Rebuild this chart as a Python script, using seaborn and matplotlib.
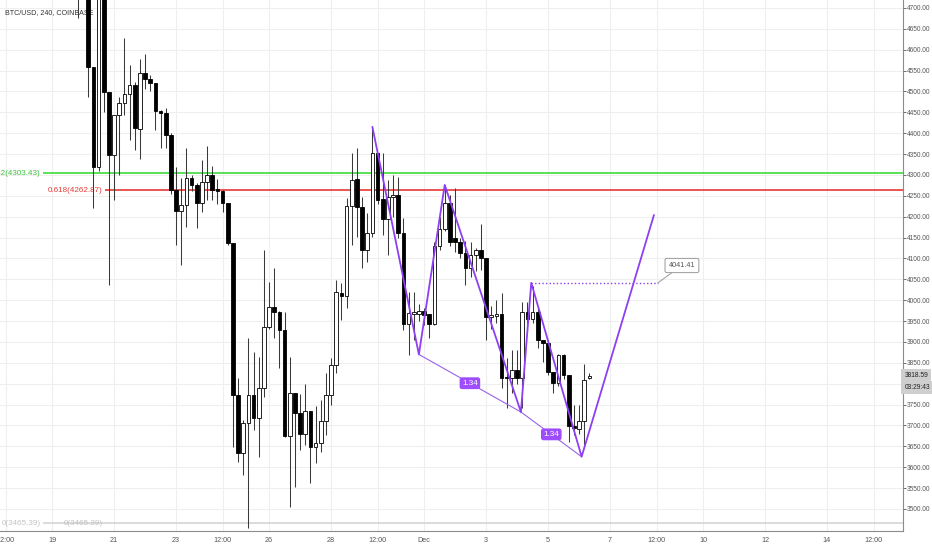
import numpy as np
import pandas as pd
import matplotlib
matplotlib.use("Agg")
import matplotlib.pyplot as plt
import matplotlib.dates as mdates
import matplotlib.transforms as mtransforms
import seaborn as sns

# 4h candles BTC/USD (Coinbase)
opens = [4790, 4740, 4770, 4559, 4319, 4745, 4499, 4348, 4444, 4472,
         4494, 4516, 4410, 4544, 4530, 4520, 4452, 4449, 4396, 4264,
         4214, 4228, 4293, 4276, 4233, 4283, 4300, 4267, 4262, 4233,
         4137, 3773, 3634, 3706, 3773, 3718, 3790, 3936, 3984, 3972,
         3929, 3675, 3778, 3730, 3680, 3735, 3649, 3658, 3711, 3773,
         3845, 4018, 4010, 4226, 4290, 4223, 4120, 4161, 4353, 4243,
         4195, 4247, 4252, 4161, 3943, 3968, 3967, 3974, 3967, 3943,
         4130, 4171, 4233, 4148, 4140, 4113, 4077, 4108, 4120, 4101,
         3960, 3963, 3967, 3816, 3814, 3833, 3814, 3972, 3955, 3972,
         3905, 3898, 3828, 3802, 3869, 3821, 3699, 3692, 3711, 3814]
highs = [4820, 4790, 4790, 4559, 4780, 4760, 4499, 4444, 4487, 4628,
         4564, 4523, 4578, 4590, 4540, 4520, 4455, 4460, 4400, 4319,
         4293, 4365, 4300, 4280, 4336, 4370, 4322, 4290, 4264, 4233,
         4137, 3813, 3713, 3910, 3876, 3864, 4120, 4044, 4077, 3975,
         3972, 3864, 3778, 3776, 3800, 3735, 3747, 3761, 3826, 3862,
         4049, 4041, 4245, 4353, 4365, 4247, 4209, 4415, 4353, 4353,
         4288, 4300, 4295, 4197, 4020, 4020, 3990, 3980, 3967, 4140,
         4200, 4276, 4252, 4269, 4150, 4142, 4140, 4125, 4183, 4101,
         3985, 4000, 4018, 3862, 3881, 3880, 3996, 3996, 4034, 3980,
         3905, 3898, 3828, 3872, 3872, 3821, 3749, 3749, 3847, 3825]
lows = [4676, 4722, 4487, 4221, 4310, 4451, 4037, 4240, 4300, 4444,
        4384, 4360, 4338, 4506, 4500, 4408, 4365, 4365, 4255, 4132,
        4085, 4176, 4262, 4173, 4211, 4240, 4240, 4230, 4211, 4132,
        3649, 3613, 3582, 3455, 3689, 3625, 3768, 3930, 3910, 3838,
        3673, 3505, 3553, 3641, 3653, 3562, 3610, 3637, 3677, 3749,
        3826, 3953, 3982, 4132, 4152, 4077, 4092, 4152, 4230, 4156,
        4108, 4200, 4150, 3929, 3869, 3905, 3950, 3940, 3910, 3940,
        4120, 4165, 4130, 4116, 4100, 4037, 4055, 4070, 4073, 3905,
        3930, 3945, 3790, 3742, 3778, 3800, 3742, 3940, 3945, 3886,
        3852, 3820, 3778, 3795, 3810, 3661, 3677, 3680, 3653, 3812]
closes = [4740, 4770, 4559, 4319, 4750, 4499, 4348, 4444, 4472, 4494,
          4516, 4413, 4544, 4530, 4520, 4453, 4449, 4396, 4264, 4214,
          4228, 4293, 4276, 4233, 4283, 4300, 4264, 4262, 4233, 4137,
          3773, 3634, 3706, 3773, 3718, 3790, 3936, 3984, 3972, 3929,
          3675, 3778, 3730, 3680, 3735, 3649, 3658, 3711, 3773, 3845,
          4020, 4010, 4226, 4288, 4223, 4120, 4161, 4353, 4240, 4195,
          4247, 4252, 4161, 3943, 3970, 3972, 3974, 3965, 3943, 4130,
          4171, 4233, 4140, 4140, 4113, 4077, 4108, 4120, 4101, 3960,
          3965, 3967, 3814, 3814, 3833, 3814, 3972, 3955, 3972, 3905,
          3898, 3828, 3802, 3869, 3821, 3699, 3694, 3711, 3809, 3818.59]
times = pd.date_range("2018-11-19 20:00", periods=len(opens), freq="4h")

# fibonacci levels
fib_green = ("0.382", 4303.43)
fib_red = ("0.618", 4262.87)
fib_zero = ("0", 3465.39)

# harmonic pattern drawing
pattern_times = pd.to_datetime(["2018-11-29 08:00", "2018-11-30 20:00", "2018-12-01 16:00",
                                "2018-12-04 03:00", "2018-12-04 11:00", "2018-12-06 02:00",
                                "2018-12-08 10:00"])
pattern_prices = [4415, 3870, 4276, 3732, 4041.41, 3625, 4204]
ratio_labels = ["1.34", "1.34"]
target_price = 4041.41
last_price = 3818.59
countdown = "03:29:43"

tick_dates = pd.to_datetime(["2018-11-17 12:00", "2018-11-19 00:00", "2018-11-21 00:00",
                             "2018-11-23 00:00", "2018-11-24 12:00", "2018-11-26 00:00",
                             "2018-11-28 00:00", "2018-11-29 12:00", "2018-12-01 00:00",
                             "2018-12-03 00:00", "2018-12-05 00:00", "2018-12-07 00:00",
                             "2018-12-08 12:00", "2018-12-10 00:00", "2018-12-12 00:00",
                             "2018-12-14 00:00", "2018-12-15 12:00"])
tick_labels = ["12:00", "19", "21", "23", "12:00", "26", "28", "12:00", "Dec",
               "3", "5", "7", "12:00", "10", "12", "14", "12:00"]

sns.set_theme(style="white")
plt.rcParams['font.family'] = ['Liberation Sans', 'DejaVu Sans']

fig = plt.figure(figsize=(9.32, 5.5), dpi=100)
ax = fig.add_axes([0, 19 / 550, 903 / 932, 1 - 19 / 550])

x = mdates.date2num(times)
xmin = mdates.date2num(pd.Timestamp("2018-11-17 07:40"))
xmax = mdates.date2num(pd.Timestamp("2018-12-16 10:50"))
ax.set_xlim(xmin, xmax)
ax.set_ylim(3447, 4719)

# grid
ax.set_xticks(mdates.date2num(tick_dates))
ax.set_xticklabels(tick_labels)
ax.set_yticks(np.arange(3500, 4701, 50))
ax.yaxis.set_major_formatter(matplotlib.ticker.FormatStrFormatter("%.2f"))
ax.yaxis.tick_right()
ax.grid(True, color="#efefef", lw=0.8, zorder=0)
ax.tick_params(axis="x", labelsize=5.2, colors="#555555", length=2.5, width=0.6,
               direction="out", pad=2)
ax.tick_params(axis="y", which="both", left=False, right=True, labelsize=4.7,
               colors="#555555", length=2, width=0.6, direction="out", pad=1)
for s in ["top", "left"]:
    ax.spines[s].set_visible(False)
for s in ["right", "bottom"]:
    ax.spines[s].set_color("#8c8c8c")
    ax.spines[s].set_linewidth(0.8)

# title
ax.text(0.006, 1 - 13 / 531, "BTC/USD, 240, COINBASE", transform=ax.transAxes,
        fontsize=5.1, color="#333333", va="center", ha="left", zorder=1)

# fib lines
g_start = mdates.date2num(pd.Timestamp("2018-11-18 17:00"))
r_start = mdates.date2num(pd.Timestamp("2018-11-20 17:00"))
ax.hlines(fib_zero[1], g_start, xmax, color="#d4d4d4", lw=1.2, zorder=1)
ax.hlines(fib_green[1], g_start, xmax, color="#3ddc3d", lw=1.2, zorder=2)
ax.hlines(fib_red[1], r_start, xmax, color="#e53935", lw=1.2, zorder=2)
lab_off = 0.07
ax.text(g_start - lab_off, fib_green[1], f"{fib_green[0]}({fib_green[1]:.2f})", color="#3cc43c",
        fontsize=5.8, ha="right", va="center", clip_on=True)
ax.text(r_start - lab_off, fib_red[1], f"{fib_red[0]}({fib_red[1]:.2f})", color="#e53935",
        fontsize=5.8, ha="right", va="center", clip_on=True)
for st in [g_start, r_start]:
    ax.text(st - lab_off, fib_zero[1], f"{fib_zero[0]}({fib_zero[1]:.2f})", color="#c2c2c2",
            fontsize=5.8, ha="right", va="center", clip_on=True)

# candles
o = np.array(opens, dtype=float)
c = np.array(closes, dtype=float)
up = c >= o
ax.vlines(x, lows, highs, color="#3a3a3a", lw=0.75, zorder=3)
body_bottom = np.minimum(o, c)
body_h = np.maximum(np.abs(c - o), 3)
ax.bar(x[up], body_h[up], bottom=body_bottom[up], width=0.12, color="white",
       edgecolor="black", linewidth=0.6, zorder=4)
ax.bar(x[~up], body_h[~up], bottom=body_bottom[~up], width=0.12, color="black",
       edgecolor="black", linewidth=0.6, zorder=4)

# pattern
purple = "#8e3ff2"
pt = mdates.date2num(pattern_times)
zig = pd.DataFrame({"t": pt, "price": pattern_prices})
sns.lineplot(data=zig, x="t", y="price", sort=False, estimator=None, color=purple,
             lw=1.3, ax=ax, zorder=6)
for a, b, lab in [(1, 3, ratio_labels[0]), (3, 5, ratio_labels[1])]:
    ax.plot([pt[a], pt[b]], [pattern_prices[a], pattern_prices[b]], color="#9a62ea",
            lw=0.8, zorder=5)
    ax.text((pt[a] + pt[b]) / 2, (pattern_prices[a] + pattern_prices[b]) / 2, lab,
            color="white", fontsize=5.8, ha="center", va="center", zorder=7,
            bbox=dict(boxstyle="round,pad=0.3,rounding_size=0.3", fc="#9d4dfb", ec="none"))

# projected target
end_t = mdates.date2num(pd.Timestamp("2018-12-08 13:00"))
ax.hlines(target_price, pt[4], end_t, color=purple, lw=1.0, linestyles=(0, (1, 1.6)), zorder=5)
ax.annotate(f"{target_price:.2f}", xy=(end_t, target_price),
            xytext=(mdates.date2num(pd.Timestamp("2018-12-09 07:40")), 4083),
            fontsize=5.2, color="#555555", ha="center", va="center", zorder=7,
            bbox=dict(boxstyle="round,pad=0.5,rounding_size=0.25", fc="white", ec="#9a9a9a", lw=0.7),
            arrowprops=dict(arrowstyle="-", color="#9a9a9a", lw=0.7, shrinkA=0, shrinkB=0))

# last price boxes (they hide the 3800 tick label, as on the chart)
trans = mtransforms.blended_transform_factory(ax.transAxes, ax.transData)
ax.text(1.0015, last_price, f"{last_price:.2f}", transform=trans, fontsize=4.8, color="#222222",
        ha="left", va="center", zorder=10,
        bbox=dict(boxstyle="square,pad=0.45", fc="#cfcfcf", ec="none"))
ax.text(1.0015, last_price - 29, countdown, transform=trans, fontsize=4.8, color="#222222",
        ha="left", va="center", zorder=10,
        bbox=dict(boxstyle="square,pad=0.45", fc="#cfcfcf", ec="none"))

ax.set_xlabel("")
ax.set_ylabel("")
fig.savefig("out.png", dpi=100)
